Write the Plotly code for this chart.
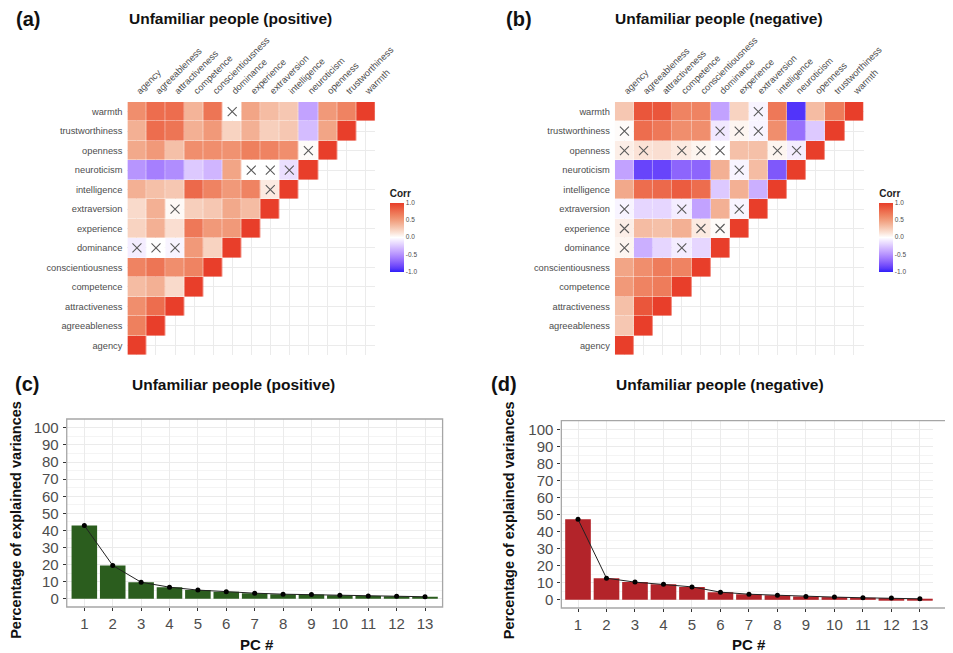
import plotly.graph_objects as go

W, H = 953, 653
OFF = 8  # page body margin of the browser

variables = ["agency", "agreeableness", "attractiveness", "competence", "conscientiousness",
             "dominance", "experience", "extraversion", "intelligence", "neuroticism",
             "openness", "trustworthiness", "warmth"]

# lower-triangle correlations: row j lists corr with variables[0..j-1]
corr_pos = [
    [],
    [0.66],
    [0.58, 0.76],
    [0.34, 0.40, 0.18],
    [0.64, 0.72, 0.58, 0.64],
    [-0.08, 0.00, -0.05, 0.52, 0.22],
    [0.22, 0.40, 0.16, 0.70, 0.52, 0.52],
    [0.18, 0.40, 0.03, 0.24, 0.28, 0.44, 0.34],
    [0.40, 0.32, 0.28, 0.78, 0.64, 0.52, 0.64, 0.10],
    [-0.48, -0.58, -0.52, -0.24, -0.33, 0.46, 0.00, 0.00, -0.14],
    [0.44, 0.52, 0.32, 0.58, 0.58, 0.56, 0.66, 0.64, 0.58, 0.02],
    [0.40, 0.76, 0.72, 0.40, 0.52, 0.22, 0.40, 0.24, 0.28, -0.30, 0.46],
    [0.58, 0.76, 0.76, 0.38, 0.72, 0.00, 0.46, 0.34, 0.28, -0.42, 0.52, 0.64],
]
corr_neg = [
    [],
    [0.28],
    [0.32, 0.88],
    [0.52, 0.64, 0.68],
    [0.46, 0.58, 0.68, 0.64],
    [0.05, -0.36, -0.18, -0.08, -0.18],
    [0.08, 0.34, 0.32, 0.40, 0.10, 0.02],
    [-0.05, -0.18, -0.18, -0.08, -0.42, 0.40, -0.05],
    [0.44, 0.76, 0.78, 0.85, 0.76, -0.24, 0.40, -0.36],
    [-0.42, -0.85, -0.85, -0.70, -0.70, 0.40, -0.05, 0.34, -0.76],
    [0.08, 0.14, 0.16, 0.10, 0.05, 0.00, 0.32, 0.32, 0.05, -0.08],
    [0.02, 0.76, 0.70, 0.58, 0.58, -0.10, 0.05, -0.05, 0.58, -0.65, -0.24],
    [0.28, 0.88, 0.88, 0.64, 0.64, -0.42, 0.22, -0.05, 0.70, -0.92, 0.34, 0.68],
]

# non-significant cells (row variable, column variable)
nonsig_pos = [
    ("warmth", "dominance"), ("openness", "neuroticism"),
    ("neuroticism", "experience"), ("neuroticism", "extraversion"), ("neuroticism", "intelligence"),
    ("intelligence", "extraversion"), ("extraversion", "attractiveness"),
    ("dominance", "agency"), ("dominance", "agreeableness"), ("dominance", "attractiveness"),
]
nonsig_neg = [
    ("warmth", "extraversion"),
    ("trustworthiness", "agency"), ("trustworthiness", "dominance"),
    ("trustworthiness", "experience"), ("trustworthiness", "extraversion"),
    ("openness", "agency"), ("openness", "agreeableness"), ("openness", "competence"),
    ("openness", "conscientiousness"), ("openness", "dominance"), ("openness", "intelligence"),
    ("openness", "neuroticism"),
    ("neuroticism", "experience"),
    ("extraversion", "agency"), ("extraversion", "competence"), ("extraversion", "experience"),
    ("experience", "agency"), ("experience", "conscientiousness"), ("experience", "dominance"),
    ("dominance", "agency"), ("dominance", "competence"),
]

pcs = list(range(1, 14))
var_pos = [42.9, 19.5, 9.7, 6.8, 5.1, 4.1, 3.3, 2.7, 2.5, 2.1, 1.7, 1.5, 1.2]
var_neg = [47.3, 12.7, 10.4, 9.2, 7.6, 4.5, 3.3, 2.7, 2.0, 1.6, 1.2, 1.0, 0.6]

corr_ticks = [-1.0, -0.5, 0.0, 0.5, 1.0]
y_ticks = list(range(0, 101, 10))


# ---------- colour scale ----------
def _lin(c):
    c = c / 255.0
    return c / 12.92 if c <= 0.04045 else ((c + 0.055) / 1.055) ** 2.4


def _gam(c):
    c = 12.92 * c if c <= 0.0031308 else 1.055 * c ** (1 / 2.4) - 0.055
    return max(0, min(255, round(c * 255)))


def rgb2lab(rgb):
    r, g, b = [_lin(v) for v in rgb]
    x = (0.4124 * r + 0.3576 * g + 0.1805 * b) / 0.95047
    y = (0.2126 * r + 0.7152 * g + 0.0722 * b)
    z = (0.0193 * r + 0.1192 * g + 0.9505 * b) / 1.08883
    f = lambda t: t ** (1 / 3) if t > 0.008856 else 7.787 * t + 16 / 116
    fx, fy, fz = f(x), f(y), f(z)
    return (116 * fy - 16, 500 * (fx - fy), 200 * (fy - fz))


def lab2rgb(lab):
    L, a, b = lab
    fy = (L + 16) / 116
    fx = fy + a / 500
    fz = fy - b / 200
    inv = lambda t: t ** 3 if t ** 3 > 0.008856 else (t - 16 / 116) / 7.787
    x, y, z = inv(fx) * 0.95047, inv(fy), inv(fz) * 1.08883
    r = 3.2406 * x - 1.5372 * y - 0.4986 * z
    g = -0.9689 * x + 1.8758 * y + 0.0415 * z
    bb = 0.0557 * x - 0.2040 * y + 1.0570 * z
    r, g, bb = [min(1, max(0, v)) for v in (r, g, bb)]
    return "rgb(%d,%d,%d)" % (_gam(r), _gam(g), _gam(bb))


low, mid = rgb2lab((45, 30, 248)), rgb2lab((255, 255, 255))
cscale = []
for k in range(11):
    f = k / 10
    lab = tuple(low[i] + (mid[i] - low[i]) * f for i in range(3))
    cscale.append([0.5 * f, lab2rgb(lab)])
pos_stops = [(251, 229, 218), (247, 205, 185), (244, 181, 154), (241, 157, 125),
             (239, 134, 100), (237, 111, 80), (234, 87, 60), (232, 62, 42)]
for k, c in enumerate(pos_stops):
    cscale.append([0.5 + 0.5 * (k + 1) / len(pos_stops), "rgb(%d,%d,%d)" % c])


def full_matrix(tri):
    n = len(variables)
    z = [[None] * n for _ in range(n)]
    for j, row in enumerate(tri):
        for i, v in enumerate(row):
            z[j][i] = v
        z[j][j] = 1.0
    return z


FONT = "Liberation Sans, Arial, sans-serif"
GREY = "#4D4D4D"

FW, FH = W - OFF, H - OFF
px = lambda v: (v - OFF) / FW
py = lambda v: 1 - (v - OFF) / FH

fig = go.Figure()

heat_specs = [
    (corr_pos, nonsig_pos, "x", "y", "coloraxis"),
    (corr_neg, nonsig_neg, "x2", "y2", "coloraxis2"),
]
for tri, nonsig, xa, ya, cax in heat_specs:
    fig.add_trace(go.Heatmap(z=full_matrix(tri), x=variables, y=variables, coloraxis=cax,
                             xaxis=xa, yaxis=ya, hoverongaps=False, xgap=0.4, ygap=0.4))
    fig.add_trace(go.Scatter(x=[c for r, c in nonsig], y=[r for r, c in nonsig], mode="markers",
                             xaxis=xa, yaxis=ya, showlegend=False,
                             marker=dict(symbol="x-thin", size=9, line=dict(width=1.1, color="#5a5a5a"))))

bar_specs = [(var_pos, "#2B5D1E", "x3", "y3"), (var_neg, "#B3242A", "x4", "y4")]
for vals, col, xa, ya in bar_specs:
    fig.add_trace(go.Bar(x=pcs, y=vals, width=0.9, marker=dict(color=col, line=dict(width=0)),
                         xaxis=xa, yaxis=ya, showlegend=False))
    fig.add_trace(go.Scatter(x=pcs, y=vals, mode="lines+markers", xaxis=xa, yaxis=ya, showlegend=False,
                             line=dict(color="#222222", width=1), marker=dict(color="black", size=5)))

heat_axis = dict(type="category", categoryorder="array", categoryarray=variables, range=[-0.5, 12.5],
                 showgrid=True, gridcolor="#EBEBEB", gridwidth=0.8, zeroline=False, ticks="",
                 showline=False, tickfont=dict(family=FONT, size=9.3, color=GREY))

layout = dict(
    width=FW, height=FH, margin=dict(l=0, r=0, t=0, b=0),
    paper_bgcolor="white", plot_bgcolor="white", showlegend=False,
    font=dict(family=FONT),
    xaxis=dict(heat_axis, domain=[px(130), px(383)], anchor="y", side="top", tickangle=-45,
               ticklabelstandoff=3),
    yaxis=dict(heat_axis, domain=[py(355), py(102)], anchor="x", ticklabelstandoff=4),
    xaxis2=dict(heat_axis, domain=[px(628), px(882)], anchor="y2", side="top", tickangle=-45,
                ticklabelstandoff=3),
    yaxis2=dict(heat_axis, domain=[py(355), py(102)], anchor="x2", ticklabelstandoff=4),
)

for left, cax in [(398, "coloraxis"), (898, "coloraxis2")]:
    layout[cax] = dict(
        cmin=-1, cmax=1, colorscale=cscale,
        colorbar=dict(title=dict(text="<b>Corr</b>", side="top", font=dict(family=FONT, size=10, color="#222")),
                      tickvals=corr_ticks, ticktext=["%.1f" % v for v in corr_ticks],
                      tickfont=dict(family=FONT, size=6.5, color=GREY), ticks="", outlinewidth=0,
                      thickness=14, len=85, lenmode="pixels", x=px(left), xanchor="left", xpad=0,
                      y=py(229), yanchor="middle", ypad=0))

bar_x = dict(tickmode="array", tickvals=pcs, ticks="outside", ticklen=3, tickcolor="#333",
             tickfont=dict(family=FONT, size=15, color=GREY), showgrid=True, gridcolor="#EBEBEB",
             zeroline=False, showline=False)
bar_y = dict(tickmode="array", tickvals=y_ticks, ticks="outside", ticklen=3, tickcolor="#333",
             tickfont=dict(family=FONT, size=15, color=GREY), showgrid=True, gridcolor="#EBEBEB",
             zeroline=False, showline=False, range=[-4.8, 105.2],
             minor=dict(dtick=5, showgrid=True, gridcolor="#F4F4F4", gridwidth=0.6), ticklabelstandoff=1)
layout["xaxis3"] = dict(bar_x, domain=[px(68), px(452)], anchor="y3", range=[0.38, 13.62])
layout["yaxis3"] = dict(bar_y, domain=[py(607), py(419)], anchor="x3")
layout["xaxis4"] = dict(bar_x, domain=[px(573.3), 1.0], anchor="y4", range=[0.415, 13.46])
layout["yaxis4"] = dict(bar_y, domain=[py(608), py(420.7)], anchor="x4")

layout["shapes"] = [
    dict(type="rect", xref="paper", yref="paper", x0=px(68), x1=px(452), y0=py(607), y1=py(419),
         line=dict(color="#A6A6A6", width=1.3), fillcolor="rgba(0,0,0,0)", layer="above"),
    dict(type="rect", xref="paper", yref="paper", x0=px(573.3), x1=1.05, y0=py(608), y1=py(420.7),
         line=dict(color="#A6A6A6", width=1.3), fillcolor="rgba(0,0,0,0)", layer="above"),
]


def ann(text, x, y, size, angle=0, color="#111"):
    return dict(text=text, x=px(x), y=py(y), xref="paper", yref="paper", showarrow=False,
                xanchor="center", yanchor="middle", textangle=angle,
                font=dict(family=FONT, size=size, color=color))


layout["annotations"] = [
    ann("<b>(a)</b>", 28, 19, 20), ann("<b>Unfamiliar people (positive)</b>", 235, 19, 15.5),
    ann("<b>(b)</b>", 530, 19, 20), ann("<b>Unfamiliar people (negative)</b>", 734, 19, 15.5),
    ann("<b>(c)</b>", 27, 384, 20), ann("<b>Unfamiliar people (positive)</b>", 238, 384, 15.5),
    ann("<b>(d)</b>", 515, 384, 20), ann("<b>Unfamiliar people (negative)</b>", 735, 384, 15.5),
    ann("<b>Percentage of explained variances</b>", 16, 520, 14.5, angle=-90),
    ann("<b>Percentage of explained variances</b>", 520, 520, 14.5, angle=-90),
    ann("<b>PC #</b>", 262, 644, 15), ann("<b>PC #</b>", 765, 644, 15),
]

fig.update_layout(**layout)
fig.write_html("out.html")
